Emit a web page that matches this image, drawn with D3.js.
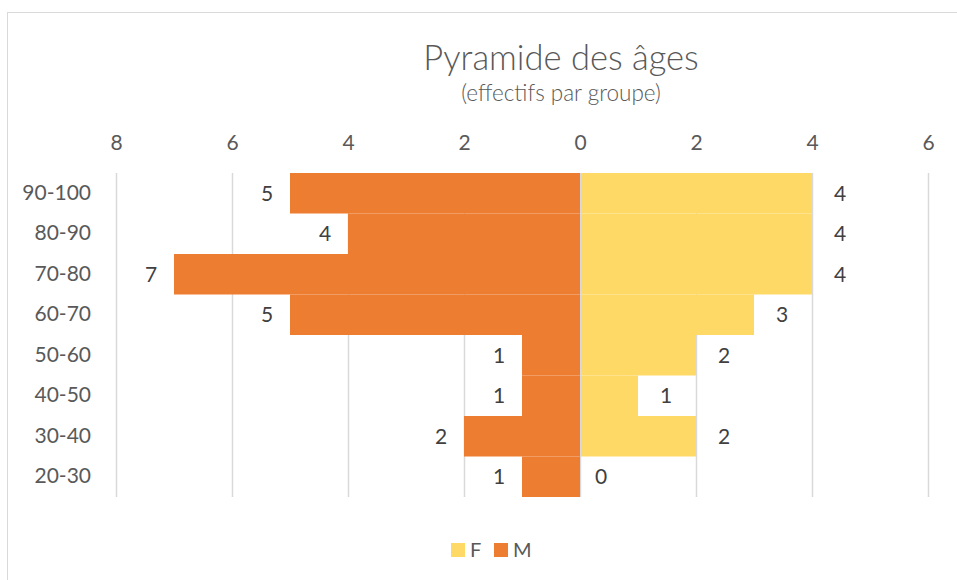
<!DOCTYPE html>
<html>
<head>
<meta charset="utf-8" />
<title>Pyramide des âges | D3</title>
<style>
body {
  margin: 0;
  background: white;
  font-family: "Lato", "Open Sans", sans-serif;
}
</style>
<script src="https://d3js.org/d3.v7.min.js"></script>
</head>
<body>
<script>
var width = 957;
var height = 580;

// data (bottom to top)
var ageGroups = ["20-30", "30-40", "40-50", "50-60", "60-70", "70-80", "80-90", "90-100"];
var femmes = [0, 2, 1, 2, 3, 4, 4, 4];
var hommes = [1, 2, 1, 1, 5, 7, 4, 5];
var tickValues = [-8, -6, -4, -2, 0, 2, 4, 6];

var orange = "#ED7D31";
var yellow = "#FFD966";
var grid = "#D9D9D9";

var svg = d3.select("body")
  .append("svg")
  .attr("width", width)
  .attr("height", height);

// chart border
svg.append("rect")
  .attr("x", 7.5).attr("y", 12.5)
  .attr("width", 1000).attr("height", 1000)
  .attr("fill", "white")
  .attr("stroke", grid);

var x = d3.scaleLinear().domain([-8, 6]).range([116, 928]);
var y = d3.scaleBand()
  .domain(ageGroups.slice().reverse())
  .range([173, 497])
  .padding(0);

// title
svg.append("text")
  .attr("x", 561).attr("y", 70)
  .attr("text-anchor", "middle")
  .attr("fill", "#595959")
  .style("font-size", "34.5px")
  .style("font-weight", "300")
  .text("Pyramide des âges");
svg.append("text")
  .attr("x", 561).attr("y", 101)
  .attr("text-anchor", "middle")
  .attr("fill", "#595959")
  .style("font-size", "22.5px")
  .style("font-weight", "300")
  .text("(effectifs par groupe)");

// gridlines
svg.append("g").selectAll("line")
  .data(tickValues)
  .enter().append("line")
  .attr("x1", function(d) { return x(d) + 0.5; })
  .attr("x2", function(d) { return x(d) + 0.5; })
  .attr("y1", 173).attr("y2", 497)
  .attr("stroke", grid)
  .attr("stroke-width", 1.5);

// top axis (absolute values)
var axis = svg.append("g")
  .attr("transform", "translate(0,150)")
  .call(d3.axisTop(x).tickValues(tickValues).tickSize(0).tickPadding(0)
    .tickFormat(function(d) { return Math.abs(d); }));
axis.select(".domain").remove();
axis.selectAll("text")
  .attr("fill", "#595959")
  .style("font-family", "Lato, sans-serif")
  .style("font-size", "21px");

// category axis
var yAxis = svg.append("g")
  .attr("transform", "translate(91,0)")
  .call(d3.axisLeft(y).tickSize(0).tickPadding(0));
yAxis.select(".domain").remove();
yAxis.selectAll("text")
  .attr("fill", "#595959")
  .style("font-family", "Lato, sans-serif")
  .style("font-size", "21px");

// bars
var rows = ageGroups.map(function(g, i) {
  return { group: g, f: femmes[i], m: hommes[i] };
});

svg.append("g").selectAll("rect")
  .data(rows)
  .enter().append("rect")
  .attr("x", function(d) { return x(-d.m); })
  .attr("y", function(d) { return y(d.group); })
  .attr("width", function(d) { return x(0) - x(-d.m); })
  .attr("height", y.bandwidth())
  .attr("fill", orange);

svg.append("g").selectAll("rect")
  .data(rows)
  .enter().append("rect")
  .attr("x", x(0) + 1)
  .attr("y", function(d) { return y(d.group); })
  .attr("width", function(d) { return Math.max(0, x(d.f) - x(0) - 1); })
  .attr("height", y.bandwidth())
  .attr("fill", yellow);

// value labels
var labels = svg.append("g")
  .attr("fill", "#404040")
  .style("font-size", "21px");

labels.selectAll(".lm")
  .data(rows)
  .enter().append("text")
  .attr("class", "lm")
  .attr("x", function(d) { return x(-d.m) - 23; })
  .attr("y", function(d) { return y(d.group) + y.bandwidth() / 2; })
  .attr("dy", "0.35em")
  .attr("text-anchor", "middle")
  .text(function(d) { return d.m; });

labels.selectAll(".lf")
  .data(rows)
  .enter().append("text")
  .attr("class", "lf")
  .attr("x", function(d) { return x(d.f) + (d.f === 0 ? 21 : 28); })
  .attr("y", function(d) { return y(d.group) + y.bandwidth() / 2; })
  .attr("dy", "0.35em")
  .attr("text-anchor", "middle")
  .text(function(d) { return d.f; });

// legend
var legend = svg.append("g")
  .style("font-size", "20px")
  .attr("fill", "#595959");
var legendItems = [["F", yellow, 451], ["M", orange, 494]];
legendItems.forEach(function(it) {
  legend.append("rect")
    .attr("x", it[2]).attr("y", 543)
    .attr("width", 14).attr("height", 14)
    .attr("fill", it[1]);
  legend.append("text")
    .attr("x", it[2] + 19).attr("y", 557)
    .text(it[0]);
});
</script>
</body>
</html>
